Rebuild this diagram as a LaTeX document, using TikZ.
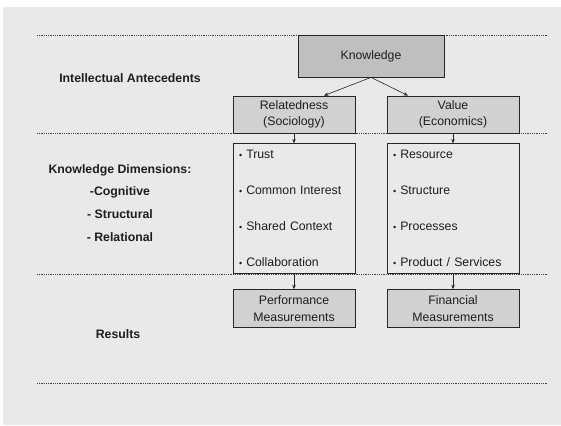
\documentclass[tikz,border=0pt]{standalone}
\usepackage{fontspec}
\setmainfont{Liberation Sans}
\usepackage{xcolor}
\usetikzlibrary{arrows.meta,positioning}

\definecolor{slidebg}{HTML}{E9E9E9}
\definecolor{inkgrey}{HTML}{1E1E1E}

% small list bullet
\newcommand{\itm}{\raisebox{0.5pt}{\fontsize{9}{9}\selectfont\textbullet}\ }

\begin{document}
\begin{tikzpicture}[x=1pt, y=-1pt,
  box/.style={rectangle, draw=black!85, line width=0.8pt, align=center,
    text=inkgrey, font=\fontsize{12.3}{15.5}\selectfont},
  head/.style={box, fill=black!25, minimum width=146pt, minimum height=42pt},
  field/.style={box, fill=black!18, minimum height=37pt},
  items/.style={box, fill=slidebg, align=left, minimum height=130pt,
    inner xsep=6pt, font=\fontsize{12.3}{36}\selectfont},
  measure/.style={box, fill=black!18, minimum height=38pt,
    font=\fontsize{12.3}{17}\selectfont},
  side/.style={anchor=base, text=inkgrey, font=\bfseries\fontsize{12.3}{14}\selectfont},
  arr/.style={-{Stealth[length=4.5pt, width=3.5pt]}, line width=0.6pt, color=black!85},
  sep/.style={line width=0.9pt, color=black!75, dash pattern=on 1pt off 0.8pt},
]
  % page
  \useasboundingbox (0,0) rectangle (561,425);
  \fill[slidebg] (3,7) rectangle (561,425);

  % section rules
  \foreach \y in {35,133,274,383}
    \draw[sep] (37,\y) -- (548,\y);

  % boxes
  \node[head] (know) at (371,56) {Knowledge};
  \node[field, minimum width=122pt] (rel) at (294,114.5) {Relatedness\\(Sociology)};
  \node[field, minimum width=132pt] (val) at (453,114.5) {Value\\(Economics)};

  \node[items, text width=110pt, below=10pt of rel] (relist)
    {\itm Trust\\ \itm Common Interest\\ \itm Shared Context\\ \itm Collaboration};
  \node[items, text width=120pt, below=10pt of val] (valist)
    {\itm Resource\\ \itm Structure\\ \itm Processes\\ \itm Product / Services};

  \node[measure, minimum width=122pt, below=15pt of relist] (perf) {Performance\\Measurements};
  \node[measure, minimum width=132pt, below=15pt of valist] (fin)  {Financial\\Measurements};

  \draw[arr] (know.south) -- ([xshift=30pt]rel.north);
  \draw[arr] (know.south) -- ([xshift=-45pt]val.north);
  \draw[arr] (rel)    -- (relist);
  \draw[arr] (val)    -- (valist);
  \draw[arr] (relist) -- (perf);
  \draw[arr] (valist) -- (fin);

  % row labels
  \node[side] (antec) at (130,82.4)  {Intellectual Antecedents};
  \node[side] (dims)  at (120,173.4) {Knowledge Dimensions:};
  \node[side] (cog)   at (120,195.4) {-Cognitive};
  \node[side] (struc) at (120,218.4) {- Structural};
  \node[side] (relat) at (120,241.4) {- Relational};
  \node[side] (res)   at (118,338.4) {Results};
\end{tikzpicture}
\end{document}
